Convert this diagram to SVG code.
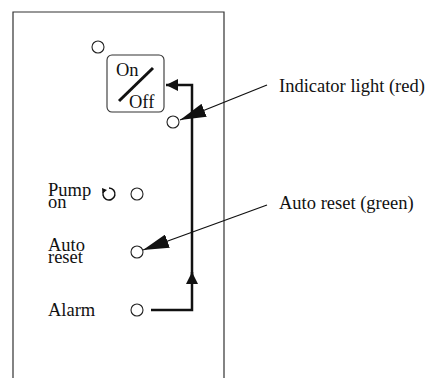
<svg xmlns="http://www.w3.org/2000/svg" width="428" height="378" viewBox="0 0 428 378">
<style>
.t{font-family:"Liberation Serif","Times New Roman",serif;font-size:18.5px;fill:#111}
.c{fill:#fff;stroke:#222;stroke-width:1.1}
.p{fill:none;stroke:#333;stroke-width:1.2}
.w{fill:none;stroke:#111;stroke-width:2.5}
.l{fill:none;stroke:#111;stroke-width:1.3}
</style>
<defs>
<marker id="ah" viewBox="0 0 12 12" refX="12" refY="6" markerWidth="12" markerHeight="12" markerUnits="userSpaceOnUse" orient="auto"><path d="M0,0 L12,6 L0,12 z" fill="#111"/></marker>
<marker id="lh" viewBox="0 0 26 14" refX="26" refY="7" markerWidth="26" markerHeight="14" markerUnits="userSpaceOnUse" orient="auto"><path d="M0,0 L26,7 L0,14 z" fill="#111"/></marker>
</defs>
<rect width="428" height="378" fill="#fff"/>
<g id="panel"><path class="p" d="M13,378 V12 H224 V378"/></g>
<g id="top-light"><circle class="c" cx="98" cy="47" r="6"/></g>
<g id="onoff-switch">
<rect x="107" y="55" width="57" height="57" rx="5" fill="#fff" stroke="#333" stroke-width="1.1"/>
<text class="t" x="116" y="76">On</text>
<text class="t" x="129" y="108">Off</text>
<line x1="119" y1="101" x2="153" y2="68" stroke="#111" stroke-width="3"/>
</g>
<g id="indicator-light"><circle class="c" cx="173" cy="122" r="6"/></g>
<g id="pump-on">
<text class="t"><tspan x="48" y="196">Pump</tspan><tspan x="48" y="208">on</tspan></text>
<path d="M104.5,190 A6,6 0 1 0 109,188" fill="none" stroke="#111" stroke-width="1.5"/>
<path d="M102,188 L107,190 L102.5,193.5 z" fill="#111"/>
<circle class="c" cx="137" cy="194" r="6"/>
</g>
<g id="auto-reset">
<text class="t"><tspan x="48" y="251">Auto</tspan><tspan x="48" y="263">reset</tspan></text>
<circle class="c" cx="137" cy="252" r="6"/>
</g>
<g id="alarm">
<text class="t" x="48" y="316">Alarm</text>
<circle class="c" cx="137" cy="310" r="6"/>
</g>
<g id="label-indicator"><text class="t" x="279" y="92">Indicator light (red)</text></g>
<g id="label-autoreset"><text class="t" x="279" y="209">Auto reset (green)</text></g>
<g id="connectors">
<path class="w" d="M151,310 H192 V272" marker-end="url(#ah)"/>
<path class="w" d="M192,282 V85 H166" marker-end="url(#ah)"/>
<line class="l" x1="267" y1="85" x2="180" y2="120" marker-end="url(#lh)"/>
<line class="l" x1="267" y1="205" x2="143" y2="250" marker-end="url(#lh)"/>
</g>
</svg>
